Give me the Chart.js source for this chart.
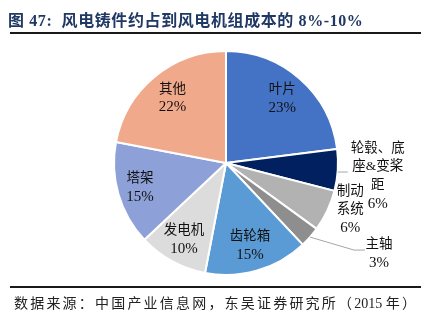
<!DOCTYPE html>
<html>
<head>
<meta charset="utf-8">
<script src="https://cdn.jsdelivr.net/npm/chart.js@4.4.0/dist/chart.umd.min.js"></script>
<style>
  html, body { margin: 0; padding: 0; background: #fff; }
  #wrap { position: relative; width: 432px; height: 328px; overflow: hidden; }
  #chart { position: absolute; left: 0; top: 0; }
  .title { position: absolute; left: 8px; top: 7px; font: bold 16px "Liberation Serif", "Noto Sans CJK SC", serif; letter-spacing: 0.6px; color: #1F3864; white-space: nowrap; }
  .rule { position: absolute; left: 10px; width: 411px; background: #1a1a1a; }
  .source { position: absolute; left: 14px; top: 292px; font: 14px "Liberation Serif", "Noto Sans CJK SC", serif; letter-spacing: 2.2px; color: #222; white-space: nowrap; }
  .source span { letter-spacing: 0; }
</style>
</head>
<body>
<div id="wrap">
  <canvas id="chart" width="432" height="328"></canvas>
  <div class="title">图 47:&nbsp; 风电铸件约占到风电机组成本的 8%-10%</div>
  <div class="rule" style="top:32px;height:2px;"></div>
  <div class="rule" style="top:286px;height:2px;"></div>
  <div class="source">数据来源：中国产业信息网，东吴证券研究所（<span>2015 </span>年）</div>
</div>
<script>
// Chart data
const categories = ['叶片', ['轮毂、底', '座&变桨', '距'], ['制动', '系统'], '主轴', '齿轮箱', '发电机', '塔架', '其他'];
const shares = [23, 6, 6, 3, 15, 10, 15, 22];

// Slice colours
const sliceColors = ['#4472C4', '#002060', '#B2B2B2', '#8E8E8E', '#5B9BD5', '#DCDCDC', '#8EA0D8', '#F0A98A'];

// Label placement: inside labels sit at a fraction of the radius,
// outside ones are offset from the slice's outer edge
const labelStyle = [
    { inside: 0.76 },
    { dx: 40, dy: 6, leader: [[0, 2], [10, 2]] },
    { dx: 23, dy: -1 },
    { dx: 69, dy: 17, leader: [[0, 0], [44, 13], [55, 13]] },
    { inside: 0.77 },
    { inside: 0.78 },
    { inside: 0.8 },
    { inside: 0.75 }
];

const nameFont = '13.5px "Liberation Serif", "Noto Sans CJK SC", serif';
const pctFont = '15px "Liberation Serif", "Noto Sans CJK SC", serif';
const lineHeight = 18.5;

const sliceLabels = {
    id: 'sliceLabels',
    afterDatasetsDraw(chart) {
        const ctx = chart.ctx;
        const meta = chart.getDatasetMeta(0);
        ctx.save();
        ctx.textAlign = 'center';
        ctx.textBaseline = 'middle';
        meta.data.forEach((arc, i) => {
            const p = arc.getProps(['x', 'y', 'startAngle', 'endAngle', 'outerRadius'], true);
            const mid = (p.startAngle + p.endAngle) / 2;
            const st = labelStyle[i];
            const name = categories[i];
            const lines = (Array.isArray(name) ? name.slice() : [name]);
            lines.push(shares[i] + '%');
            let cx, cy;
            if (st.inside) {
                cx = p.x + Math.cos(mid) * p.outerRadius * st.inside;
                cy = p.y + Math.sin(mid) * p.outerRadius * st.inside;
            } else {
                const ex = p.x + Math.cos(mid) * p.outerRadius;
                const ey = p.y + Math.sin(mid) * p.outerRadius;
                cx = ex + st.dx;
                cy = ey + st.dy;
                if (st.leader) {
                    ctx.strokeStyle = '#A6A6A6';
                    ctx.lineWidth = 1;
                    ctx.beginPath();
                    st.leader.forEach((pt, k) => {
                        if (k === 0) ctx.moveTo(ex + pt[0], ey + pt[1]);
                        else ctx.lineTo(ex + pt[0], ey + pt[1]);
                    });
                    ctx.stroke();
                }
            }
            ctx.fillStyle = '#111';
            const top = cy - (lines.length - 1) * lineHeight / 2;
            lines.forEach((t, k) => {
                ctx.font = (k === lines.length - 1) ? pctFont : nameFont;
                ctx.fillText(t, cx, top + k * lineHeight);
            });
        });
        ctx.restore();
    }
};

new Chart(document.getElementById('chart').getContext('2d'), {
    type: 'pie',
    data: {
        labels: categories,
        datasets: [{
            data: shares,
            backgroundColor: sliceColors,
            borderColor: '#ffffff',
            borderWidth: 2
        }]
    },
    options: {
        responsive: false,
        animation: false,
        layout: { padding: { left: 113, right: 93, top: 50, bottom: 52 } },
        plugins: {
            legend: { display: false },
            tooltip: { enabled: false }
        }
    },
    plugins: [sliceLabels]
});
</script>
</body>
</html>
